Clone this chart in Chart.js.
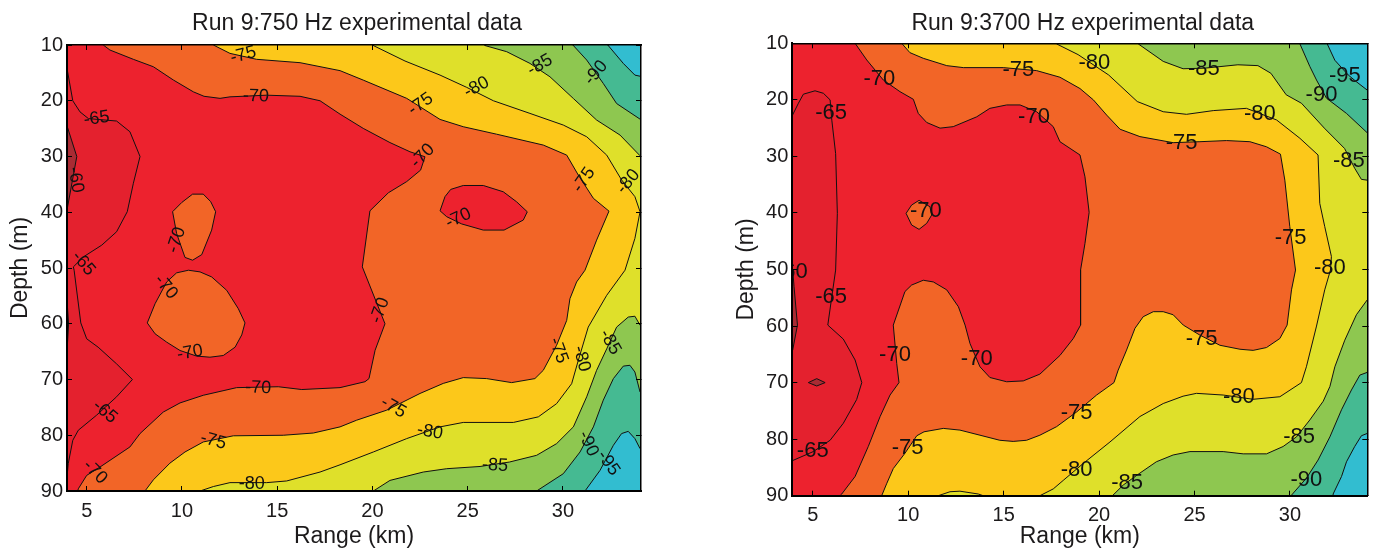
<!DOCTYPE html>
<html>
<head>
<meta charset="utf-8">
<title>Run 9 experimental data</title>
<script src="https://cdn.jsdelivr.net/npm/chart.js@4/dist/chart.umd.min.js"></script>
<style>
  html, body { margin: 0; padding: 0; background: #fff; }
  canvas { position: absolute; top: 0; }
  #leftChart { left: 0; }
  #rightChart { left: 690px; }
</style>
</head>
<body>
<canvas id="leftChart" width="690" height="553"></canvas>
<canvas id="rightChart" width="688" height="553"></canvas>
<script>
const plotBox = [[0, 0], [40, 0], [40, 100], [0, 100], [0, 0]];

// contours are [range km, depth m], points past the axes only close the fill
const left70 = [[5.87,5],[5.87,10],[6.22,10.9],[7.45,12.57],[8.5,13.9],[9.55,16.28],[10.6,18.4],[11.16,19.2],[12,19.57],[12.52,19.3],[14.45,19],[16.2,19.2],[17.25,20],[18.3,22.4],[19.52,24.96],[20.92,27.5],[21.97,29.15],[22.76,30.05],[22.53,32.44],[21.8,34.5],[20.84,36.5],[19.87,39.74],[19.47,49.8],[20.66,60],[20.14,64.76],[19.82,69.84],[19.61,70.4],[18.3,71.46],[16.29,71.8],[15.06,71.3],[12.87,71.46],[11.12,72.83],[9.9,74.2],[9.02,75.84],[7.8,79.7],[7.27,82.1],[5.7,85.7],[5,87.2],[4.56,89.6],[4.53,90],[4.53,95],[36,95],[36,5],[5.87,5]];
const left70IslandA = [[9.51,39.9],[9.99,38.25],[10.56,36.75],[11.12,36.75],[11.51,38.1],[11.77,39.9],[11.56,43.2],[11.04,47.6],[10.56,48.6],[10.16,48.1],[9.72,43.8],[9.51,39.9]];
const left70IslandB = [[8.18,59.85],[8.59,56.4],[9.2,52.5],[9.72,50.87],[10.34,50.4],[10.95,50.7],[11.56,51.6],[12.35,54],[12.96,57.3],[13.31,59.85],[13.14,62],[12.79,64.2],[12.17,65.7],[11.47,66],[10.77,65.8],[9.9,64.8],[9.2,63.3],[8.59,61.8],[8.18,59.85]];
const left70IslandC = [[23.55,39.74],[23.81,37.2],[24.11,35.9],[24.77,35.2],[25.82,35.2],[26.87,36.33],[27.57,38.13],[28.13,39.92],[27.92,41.4],[26.91,43.2],[25.82,43.2],[24.69,42.1],[23.9,40.8],[23.55,39.74]];
const left75 = [[11.65,5],[11.65,10],[12.52,11.5],[13.92,12.57],[16.2,13.17],[18.3,14.6],[19.52,16.3],[21.8,19.57],[23.55,23.35],[24.77,24.66],[26.52,26],[28.97,27.95],[30.2,29.75],[30.81,33.34],[31.6,37.5],[32.42,39.8],[31.77,45],[31.16,50.4],[30.72,52.5],[30.37,55.5],[30.2,59.4],[29.67,63.86],[28.97,68.35],[28.53,69.84],[27.31,70.56],[26,69.84],[24.77,69.66],[23.72,70.7],[22.5,72.5],[20.75,75.5],[19.17,77.3],[18.3,78.5],[16.9,79.6],[15.32,80],[12.7,80.1],[11.12,81.2],[10.16,83],[9.37,85],[8.5,88],[8.06,90],[8.06,95],[36,95],[36,5],[11.65,5]];
const left80 = [[20.05,5],[20.05,10.1],[21.71,12.87],[23.55,15.4],[24.95,17.6],[26.35,20],[28.27,22.27],[30.02,24.36],[31.25,26.46],[32.3,29.75],[33.08,34.2],[33.78,37.2],[34.05,39.9],[33.78,44.7],[33.26,50.4],[32.3,54.9],[31.33,60.6],[30.81,66.55],[30.46,70.75],[29.67,74.33],[28.71,76.7],[27.4,77.7],[24.77,77.7],[23.55,78.5],[21.8,80.6],[20.05,83],[18.3,85.3],[17.25,86.6],[15.5,88.2],[14.45,88.5],[12.52,88.5],[11.65,89.2],[10.95,90],[10.95,95],[36,95],[36,5],[20.05,5]];
const left85Top = [[25.91,5],[25.91,10.1],[27.05,11.2],[28.27,13.3],[29.32,15.7],[30.55,19.6],[31.77,23.46],[33,26.16],[34.05,29.87],[36,29.87],[36,5],[25.91,5]];
const left85Bottom = [[20.05,95],[20.05,90],[20.92,88.1],[22.67,86.6],[23.9,86],[25.65,85.6],[27.2,84.8],[28.62,83.6],[29.67,81.5],[30.55,78.5],[31.25,73.1],[31.77,68.35],[32.3,64.5],[32.82,60.6],[33.43,58.8],[33.78,58.65],[34.05,60.27],[36,60.27],[36,95],[20.05,95]];
const left90Top = [[30.55,5],[30.55,10.1],[31.25,12.7],[32.12,16.9],[32.82,20.5],[34.05,23.3],[36,23.3],[36,5],[30.55,5]];
const left90Bottom = [[28.62,95],[28.62,90],[30.02,86.9],[30.9,83],[31.6,78.5],[32.12,73.7],[32.65,69.84],[33.17,67.6],[33.52,67.45],[33.78,68.65],[34.05,72.24],[36,72.24],[36,95],[28.62,95]];
const left95Top = [[32.38,5],[32.38,10.1],[33.17,13.3],[33.78,15.4],[34.05,15.6],[36,15.6],[36,5],[32.38,5]];
const left95Bottom = [[31.16,95],[31.16,90],[31.95,86.3],[32.65,81.8],[33.08,79.7],[33.43,79.3],[33.78,80.6],[34.05,82.4],[36,82.4],[36,95],[31.16,95]];
const left65 = [[3,13.3],[3.92,13.3],[4.27,20],[4.65,22],[5.09,23.2],[6.57,23.64],[7.27,25.56],[7.8,30],[7.45,34.8],[7.13,39.9],[6.57,43.5],[5.79,45.9],[4.83,48],[4.3,49.8],[4.34,50.4],[4.69,59.85],[5,62.7],[5.6,64.2],[6.57,67.2],[7.4,70],[6.57,73.1],[5.52,76.4],[4.56,79.1],[4.27,80.9],[4.03,85.1],[3.92,89.3],[3,89.3],[3,13.3]];
const left60 = [[3,24],[3.92,24],[4.48,30],[4.16,36],[3.95,39.9],[3,39.9],[3,24]];
const left60Sliver = [[3,55],[3.95,55],[4.05,60],[3.95,66],[3,66],[3,55]];

const right70 = [[7.22,5],[7.22,10],[7.83,12.95],[8.7,16.5],[9.57,18.55],[10.27,19.9],[10.53,22.4],[10.97,24],[11.67,25],[12.36,24.74],[13.59,23],[14.28,21.5],[15.16,20.9],[15.86,20.9],[16.73,22.1],[17.6,24.74],[17.95,27.4],[19,29.75],[19.26,33.6],[19.48,39.9],[19.26,45.4],[19.03,50.1],[19.03,59.83],[18.65,62.2],[17.95,65.2],[16.9,68.5],[16.03,69.7],[15.16,69.85],[14.28,69.1],[13.76,67.2],[13.24,63.1],[12.98,59.83],[12.63,56.58],[12.02,53.6],[11.32,52.2],[10.79,51.9],[10.18,52.75],[9.83,53.9],[9.22,59.83],[9.4,66.6],[9.52,70],[9.05,72.2],[8.53,76],[7.91,81.3],[7.22,86.6],[6.52,89.7],[6.43,90],[6.43,95],[36,95],[36,5],[7.22,5]];
const right70Island = [[9.89,40.07],[10.18,38.6],[10.57,37.77],[11.14,38.9],[11.23,40.37],[10.97,41.84],[10.57,42.9],[10.18,42.13],[9.89,40.07]];
const right75 = [[9.66,5],[9.66,10],[10.09,11.65],[10.79,12.65],[12.02,13.95],[12.89,14.3],[14.98,14.3],[16.73,14.83],[17.95,16],[19,18],[19.7,20],[20.4,22.7],[21.1,25.2],[22.14,26.5],[23.88,27.57],[25.28,27.4],[26.68,27.2],[27.9,27.4],[28.77,28.3],[29.5,29.6],[29.73,34.2],[29.99,42.4],[30.29,50.1],[30.08,53.6],[29.85,59.83],[29.47,62.2],[28.77,63.8],[28.07,64.3],[27.38,64.1],[26.33,63.4],[25.28,61.6],[24.41,59.83],[23.88,58],[23.36,57.46],[22.84,57.46],[22.31,58.35],[21.88,60.4],[21.44,64.25],[21,67.8],[20.78,70],[19.87,72.2],[18.82,75.2],[17.77,77.8],[16.9,79.3],[16.2,80.2],[15.5,80.4],[14.8,80.2],[13.76,79.3],[12.71,78.4],[11.84,78.1],[10.83,78.7],[10.45,79.4],[9.83,82.5],[9.22,85.2],[8.87,87.9],[8.65,89.7],[8.61,90],[8.61,95],[36,95],[36,5],[9.66,5]];
const right80 = [[17.77,5],[17.77,10.1],[18.9,12],[20.5,15.6],[22,20.3],[23.36,22.1],[24.58,22.56],[25.98,21.9],[27.72,21.5],[29.3,23.56],[30.52,26.8],[31.47,29.75],[31.56,38.3],[31.82,42.4],[32.17,47.7],[32.12,50.1],[31.82,53.6],[31.39,60],[30.86,67.2],[30.6,70],[29.47,72.5],[28.07,72.95],[26.5,72.2],[25.1,71.9],[24.4,72.4],[23.36,73.7],[22.14,76],[20.57,80.5],[19.17,84.3],[18.12,87.3],[17.6,88.8],[16.9,90],[16.9,95],[36,95],[36,5],[17.77,5]];
const right80Island = [[11.58,95],[11.58,90],[12.19,89.3],[12.71,89.2],[13.67,89.7],[13.93,90],[13.93,95],[11.58,95]];
const right85Top = [[22.05,5],[22.05,10.1],[23.36,13.2],[24.4,14.5],[25.53,14.4],[27.27,13.8],[28.32,13.95],[29,15.3],[29.8,19.1],[30.6,20.6],[31.8,25],[32.86,28.6],[33.39,32.1],[33.74,34.06],[34.04,34.2],[36,34.2],[36,5],[22.05,5]];
const right85Bottom = [[20.7,95],[20.7,90],[21.27,88.1],[22.14,86],[23,84],[23.88,82.8],[24.76,82.2],[26.5,82.2],[27.55,82.6],[28.77,82.6],[29.64,81.3],[30.34,79.6],[31.04,76.6],[31.74,73.3],[32.09,70.7],[32.35,67.2],[32.87,62.5],[33.48,58],[34.04,55.4],[36,55.4],[36,95],[20.7,95]];
const right90Top = [[30.52,5],[30.52,10.1],[31.04,14.1],[31.39,16.5],[31.91,19.7],[32.96,22.4],[34.04,25.8],[36,25.8],[36,5],[30.52,5]];
const right90Bottom = [[30.08,95],[30.08,89.9],[30.86,86.9],[31.47,83.7],[32.09,79.6],[32.7,74.8],[33.22,71.3],[33.66,68.67],[34.04,68.2],[36,68.2],[36,95],[30.08,95]];
const right95Top = [[31.95,5],[31.95,10.1],[32.35,13],[33.05,15.6],[33.48,16.8],[34.04,18.26],[36,18.26],[36,5],[31.95,5]];
const right95Bottom = [[32.26,95],[32.26,89.7],[32.7,86.6],[32.96,84],[33.39,81.3],[33.74,79.4],[34.04,79],[36,79],[36,95],[32.26,95]];
const right65 = [[3,22.7],[3.94,22.7],[4.25,20.6],[4.51,19],[5.12,18.4],[5.56,18.84],[5.91,20],[6,23.6],[6.2,29.5],[6.29,40.07],[6.2,50.1],[6,54.8],[5.79,59.83],[6.6,62.3],[7.22,66],[7.57,70],[7.3,73],[6.6,77.2],[5.91,80.2],[5.03,82.2],[3.94,83.8],[3,83.8],[3,22.7]];
const right60Sliver = [[3,50],[3.95,50],[4.02,53],[4.2,59.83],[3.95,64.25],[3,64.25],[3,50]];
const right60Island = [[4.77,70],[5.21,69.3],[5.65,70],[5.21,70.6],[4.77,70]];

const leftLabelText = ['-75','-70','-65','-60','-70','-65','-70','-70','-70','-65','-75','-80','-70','-75','-80','-85','-90','-70','-75','-80','-70','-70','-75','-80','-85','-75','-80','-85','-90','-95'];
const leftLabelRange = [13.22,13.89,5.52,4.42,9.72,4.83,9.16,10.42,14,5.96,11.65,13.66,5.44,22.53,25.47,28.8,31.74,22.64,31.1,33.43,24.51,20.4,21.1,23.02,26.43,29.76,30.98,32.47,31.33,32.38];
const leftLabelDepth = [11.8,19.2,23.2,34.2,45,49.2,53.4,65.2,71.5,75.8,81,88.7,86.6,20.6,17.6,13.6,15,29.9,34.2,34.5,41.1,57.6,75,79.4,85.4,64.8,66.3,63.3,81.5,85];
const leftLabelAngle = [-15,2,-8,80,-72,50,50,-10,2,40,15,0,45,-35,-28,-30,-50,-45,-55,-50,-25,-70,30,10,3,70,75,60,65,55];

const rightLabelText = ['-70','-65','-75','-70','-70','-60','-80','-85','-90','-95','-80','-75','-85','-75','-80','-65','-70','-70','-75','-65','-75','-80','-75','-80','-85','-85','-90'];
const rightLabelRange = [8.49,5.96,15.77,16.59,10.93,3.9,19.75,25.49,31.65,32.87,28.42,24.32,33.08,30.03,32.09,5.96,9.31,13.59,9.97,5,25.37,27.32,18.82,18.82,30.48,21.47,30.86];
const rightLabelDepth = [16.3,22.4,14.7,23,39.7,50.4,13.5,14.6,19.1,15.7,22.5,27.7,30.75,44.5,49.8,54.9,65.1,65.8,81.5,82.1,62.2,72.6,75.3,85.5,79.6,87.7,87.2];

const colors = {
  dark: '#a92b33', crimson: '#e4212e', red: '#ed222e', orange: '#f26527',
  yellow: '#fcc81a', lime: '#dfe02a', green: '#8ec750', teal: '#45ba92', cyan: '#32bdd0'
};
const inkColor = '#1c1a1b';

function layer(points, color, lineWidth) {
  return {
    data: points.map(p => ({ x: p[0], y: p[1] })),
    showLine: true,
    fill: 'shape',
    backgroundColor: color,
    borderColor: '#111',
    borderWidth: lineWidth === undefined ? 1 : lineWidth,
    pointRadius: 0,
    tension: 0
  };
}

function axisOptions(min, max, step, position, size) {
  return {
    type: 'linear',
    position: position,
    min: min,
    max: max,
    border: { color: '#000', width: 2, z: 2 },
    // z above the datasets, ticks point inwards over the fills
    grid: { drawOnChartArea: false, tickLength: -5, tickColor: '#000', tickWidth: 1, z: 1 },
    ticks: {
      stepSize: step,
      includeBounds: false,
      autoSkip: false,
      maxRotation: 0,
      color: inkColor,
      z: 2,
      font: { family: 'Liberation Sans', size: 20 }
    },
    afterFit: (scale) => {
      if (scale.isHorizontal()) scale.height = size; else scale.width = size;
    }
  };
}

function labelPlugin(texts, ranges, depths, angles, fontSize) {
  return {
    id: 'contourLabels',
    afterDatasetsDraw(chart) {
      const ctx = chart.ctx;
      const area = chart.chartArea;
      ctx.save();
      ctx.beginPath();
      ctx.rect(area.left, area.top, area.width, area.height);
      ctx.clip();
      ctx.fillStyle = '#111';
      ctx.font = fontSize + 'px "Liberation Sans"';
      ctx.textAlign = 'center';
      ctx.textBaseline = 'middle';
      texts.forEach((t, i) => {
        ctx.save();
        ctx.translate(chart.scales.x.getPixelForValue(ranges[i]), chart.scales.y.getPixelForValue(depths[i]));
        ctx.rotate((angles ? angles[i] : 0) * Math.PI / 180);
        ctx.fillText(t, 0, 0);
        ctx.restore();
      });
      ctx.restore();
    }
  };
}

function titleShift(dx) {
  return {
    id: 'titleShift',
    afterLayout(chart) {
      chart.titleBlock.left += dx;
      chart.titleBlock.right += dx;
    }
  };
}

function makeChart(id, opt) {
  const canvas = document.getElementById(id);
  const yAxis = axisOptions(10, 90, 10, 'left', opt.left);
  yAxis.reverse = true;
  yAxis.ticks.padding = 9;
  yAxis.title = { display: true, text: 'Depth (m)', color: inkColor, font: { family: 'Liberation Sans', size: 23 }, padding: { top: opt.yTitlePad, bottom: 0 } };
  const xAxis = axisOptions(opt.xMin, opt.xMax, 5, 'bottom', canvas.height - opt.bottom);
  xAxis.ticks.padding = 13;
  xAxis.title = { display: true, text: 'Range (km)', color: inkColor, font: { family: 'Liberation Sans', size: 23 }, padding: { top: 0, bottom: 3 } };
  const xTop = axisOptions(opt.xMin, opt.xMax, 5, 'top', 0);
  xTop.ticks.display = false;
  xTop.border.width = 1.5;
  const yRight = axisOptions(10, 90, 10, 'right', 0);
  yRight.reverse = true;
  yRight.ticks.display = false;
  yRight.border.width = 1.5;

  const datasets = opt.layers.map((l, i) => Object.assign(layer(l[0], l[1], l[2]), { order: opt.layers.length - i }));
  return new Chart(canvas, {
    type: 'scatter',
    data: { datasets: datasets },
    options: {
      responsive: false,
      animation: false,
      layout: { padding: { left: 0, top: 0, bottom: 0, right: canvas.width - opt.right } },
      scales: { x: xAxis, y: yAxis, xTop: xTop, yRight: yRight },
      plugins: {
        legend: { display: false },
        tooltip: { enabled: false },
        title: {
          display: true,
          text: opt.title,
          color: inkColor,
          fullSize: false,
          font: { family: 'Liberation Sans', size: 23, weight: 'normal', lineHeight: 1 },
          padding: { top: 12, bottom: opt.top - 12 - 23 }
        }
      }
    },
    plugins: [opt.labels, titleShift(opt.titleDx)]
  });
}

makeChart('leftChart', {
  title: 'Run 9:750 Hz experimental data',
  xMin: 3.966, xMax: 34.1,
  left: 67, right: 641, top: 45, bottom: 491,
  yTitlePad: 7, titleDx: 3,
  layers: [
    [plotBox, colors.red, 0],
    [left70, colors.orange],
    [left70IslandA, colors.orange],
    [left70IslandB, colors.orange],
    [left70IslandC, colors.red],
    [left75, colors.yellow],
    [left80, colors.lime],
    [left85Top, colors.green],
    [left85Bottom, colors.green],
    [left90Top, colors.teal],
    [left90Bottom, colors.teal],
    [left95Top, colors.cyan],
    [left95Bottom, colors.cyan],
    [left65, colors.crimson],
    [left60, colors.dark],
    [left60Sliver, colors.dark]
  ],
  labels: labelPlugin(leftLabelText, leftLabelRange, leftLabelDepth, leftLabelAngle, 18)
});

makeChart('rightChart', {
  title: 'Run 9:3700 Hz experimental data',
  xMin: 3.93, xMax: 34.05,
  left: 102.3, right: 677.3, top: 43.3, bottom: 495.7,
  yTitlePad: 43, titleDx: 3,
  layers: [
    [plotBox, colors.red, 0],
    [right70, colors.orange],
    [right70Island, colors.orange],
    [right75, colors.yellow],
    [right80, colors.lime],
    [right80Island, colors.lime],
    [right85Top, colors.green],
    [right85Bottom, colors.green],
    [right90Top, colors.teal],
    [right90Bottom, colors.teal],
    [right95Top, colors.cyan],
    [right95Bottom, colors.cyan],
    [right65, colors.crimson],
    [right60Sliver, colors.dark],
    [right60Island, colors.dark]
  ],
  labels: labelPlugin(rightLabelText, rightLabelRange, rightLabelDepth, null, 22)
});
</script>
</body>
</html>
